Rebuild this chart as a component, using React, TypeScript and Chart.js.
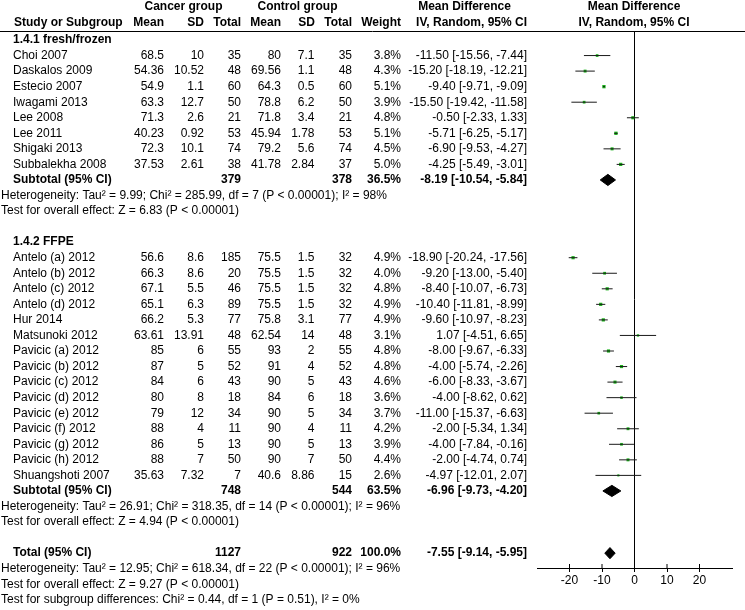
import React, { useEffect, useRef } from 'react';
import { Chart, registerables } from 'chart.js';

Chart.register(...registerables);

// ---------- data ----------
const group1Names = ['Choi 2007', 'Daskalos 2009', 'Estecio 2007', 'Iwagami 2013', 'Lee 2008', 'Lee 2011', 'Shigaki 2013', 'Subbalekha 2008'];
const group1CancerMean = [68.5, 54.36, 54.9, 63.3, 71.3, 40.23, 72.3, 37.53];
const group1CancerSD = [10, 10.52, 1.1, 12.7, 2.6, 0.92, 10.1, 2.61];
const group1CancerN = [35, 48, 60, 50, 21, 53, 74, 38];
const group1ControlMean = [80, 69.56, 64.3, 78.8, 71.8, 45.94, 79.2, 41.78];
const group1ControlSD = [7.1, 1.1, 0.5, 6.2, 3.4, 1.78, 5.6, 2.84];
const group1ControlN = [35, 48, 60, 50, 21, 53, 74, 37];
const group1Weight = [3.8, 4.3, 5.1, 3.9, 4.8, 5.1, 4.5, 5.0];
const group1MD = [-11.5, -15.2, -9.4, -15.5, -0.5, -5.71, -6.9, -4.25];
const group1Lo = [-15.56, -18.19, -9.71, -19.42, -2.33, -6.25, -9.53, -5.49];
const group1Hi = [-7.44, -12.21, -9.09, -11.58, 1.33, -5.17, -4.27, -3.01];

const group2Names = ['Antelo (a) 2012', 'Antelo (b) 2012', 'Antelo (c) 2012', 'Antelo (d) 2012', 'Hur 2014', 'Matsunoki 2012', 'Pavicic (a) 2012', 'Pavicic (b) 2012', 'Pavicic (c) 2012', 'Pavicic (d) 2012', 'Pavicic (e) 2012', 'Pavicic (f) 2012', 'Pavicic (g) 2012', 'Pavicic (h) 2012', 'Shuangshoti 2007'];
const group2CancerMean = [56.6, 66.3, 67.1, 65.1, 66.2, 63.61, 85, 87, 84, 80, 79, 88, 86, 88, 35.63];
const group2CancerSD = [8.6, 8.6, 5.5, 6.3, 5.3, 13.91, 6, 5, 6, 8, 12, 4, 5, 7, 7.32];
const group2CancerN = [185, 20, 46, 89, 77, 48, 55, 52, 43, 18, 34, 11, 13, 50, 7];
const group2ControlMean = [75.5, 75.5, 75.5, 75.5, 75.8, 62.54, 93, 91, 90, 84, 90, 90, 90, 90, 40.6];
const group2ControlSD = [1.5, 1.5, 1.5, 1.5, 3.1, 14, 2, 4, 5, 6, 5, 4, 5, 7, 8.86];
const group2ControlN = [32, 32, 32, 32, 77, 48, 55, 52, 43, 18, 34, 11, 13, 50, 15];
const group2Weight = [4.9, 4.0, 4.8, 4.9, 4.9, 3.1, 4.8, 4.8, 4.6, 3.6, 3.7, 4.2, 3.9, 4.4, 2.6];
const group2MD = [-18.9, -9.2, -8.4, -10.4, -9.6, 1.07, -8.0, -4.0, -6.0, -4.0, -11.0, -2.0, -4.0, -2.0, -4.97];
const group2Lo = [-20.24, -13.0, -10.07, -11.81, -10.97, -4.51, -9.67, -5.74, -8.33, -8.62, -15.37, -5.34, -7.84, -4.74, -12.01];
const group2Hi = [-17.56, -5.4, -6.73, -8.99, -8.23, 6.65, -6.33, -2.26, -3.67, 0.62, -6.63, 1.34, -0.16, 0.74, 2.07];

// pooled results: [subtotal 1, subtotal 2, total]
const pooledLabels = ['Subtotal (95% CI)', 'Subtotal (95% CI)', 'Total (95% CI)'];
const pooledCancerN = [379, 748, 1127];
const pooledControlN = [378, 544, 922];
const pooledWeight = [36.5, 63.5, 100.0];
const pooledMD = [-8.19, -6.96, -7.55];
const pooledLo = [-10.54, -9.73, -9.14];
const pooledHi = [-5.84, -4.2, -5.95];

const groupTitles = ['1.4.1 fresh/frozen', '1.4.2 FFPE'];
const heterogeneityTexts = [
  'Heterogeneity: Tau\u00b2 = 9.99; Chi\u00b2 = 285.99, df = 7 (P < 0.00001); I\u00b2 = 98%',
  'Heterogeneity: Tau\u00b2 = 26.91; Chi\u00b2 = 318.35, df = 14 (P < 0.00001); I\u00b2 = 96%',
  'Heterogeneity: Tau\u00b2 = 12.95; Chi\u00b2 = 618.34, df = 22 (P < 0.00001); I\u00b2 = 96%',
];
const overallEffectTexts = [
  'Test for overall effect: Z = 6.83 (P < 0.00001)',
  'Test for overall effect: Z = 4.94 (P < 0.00001)',
  'Test for overall effect: Z = 9.27 (P < 0.00001)',
];
const subgroupDiffText = 'Test for subgroup differences: Chi\u00b2 = 0.44, df = 1 (P = 0.51), I\u00b2 = 0%';

const xTickValues = [-20, -10, 0, 10, 20];

// ---------- layout ----------
const W = 745;
const H = 610;
const ROW0_Y = 40;
const PITCH = 15.55;
const AREA_TOP = 31;
const AREA_BOTTOM = 568;
const FONT = '"Liberation Sans", Arial, sans-serif';

type Row =
  | { kind: 'title'; text: string }
  | { kind: 'study'; g: number; i: number }
  | { kind: 'pooled'; p: number }
  | { kind: 'note'; text: string }
  | { kind: 'blank' };

function buildRows(): Row[] {
  const rows: Row[] = [];
  const groups = [group1Names, group2Names];
  groups.forEach((names, g) => {
    rows.push({ kind: 'title', text: groupTitles[g] });
    names.forEach((_, i) => rows.push({ kind: 'study', g, i }));
    rows.push({ kind: 'pooled', p: g });
    rows.push({ kind: 'note', text: heterogeneityTexts[g] });
    rows.push({ kind: 'note', text: overallEffectTexts[g] });
    rows.push({ kind: 'blank' });
  });
  rows.push({ kind: 'pooled', p: 2 });
  rows.push({ kind: 'note', text: heterogeneityTexts[2] });
  rows.push({ kind: 'note', text: overallEffectTexts[2] });
  rows.push({ kind: 'note', text: subgroupDiffText });
  return rows;
}

const G = [
  { names: group1Names, cm: group1CancerMean, cs: group1CancerSD, cn: group1CancerN, km: group1ControlMean, ks: group1ControlSD, kn: group1ControlN, w: group1Weight, md: group1MD, lo: group1Lo, hi: group1Hi },
  { names: group2Names, cm: group2CancerMean, cs: group2CancerSD, cn: group2CancerN, km: group2ControlMean, ks: group2ControlSD, kn: group2ControlN, w: group2Weight, md: group2MD, lo: group2Lo, hi: group2Hi },
];

const fmtCI = (m: number, l: number, h: number) => `${m.toFixed(2)} [${l.toFixed(2)}, ${h.toFixed(2)}]`;

export default function App() {
  const ref = useRef<HTMLCanvasElement | null>(null);

  useEffect(() => {
    const canvas = ref.current;
    if (!canvas) return;
    const rows = buildRows();

    const ciData: any[] = [];
    const ptData: any[] = [];
    const ptRadius: number[] = [];
    const diamonds: any[][] = [];
    rows.forEach((row, r) => {
      if (row.kind === 'study') {
        const d = G[row.g];
        ciData.push({ x: d.lo[row.i], y: r }, { x: d.hi[row.i], y: r }, { x: NaN, y: NaN });
        ptData.push({ x: d.md[row.i], y: r });
        ptRadius.push(0.6 + d.w[row.i] * 0.34);
      } else if (row.kind === 'pooled') {
        const p = row.p;
        const h = 0.36;
        diamonds.push([
          { x: pooledLo[p], y: r },
          { x: pooledMD[p], y: r - h },
          { x: pooledHi[p], y: r },
          { x: pooledMD[p], y: r + h },
          { x: pooledLo[p], y: r },
        ]);
      }
    });

    const yMin = (AREA_TOP - ROW0_Y) / PITCH;
    const yMax = (AREA_BOTTOM - ROW0_Y) / PITCH;
    const tickUp = 4 / PITCH;
    const tickData: any[] = [];
    xTickValues.forEach((v) => tickData.push({ x: v, y: yMax }, { x: v, y: yMax - tickUp }, { x: NaN, y: NaN }));

    const tablePlugin = {
      id: 'forestTable',
      afterDraw(chart: any) {
        const ctx = chart.ctx as CanvasRenderingContext2D;
        const ys = chart.scales.y;
        const Y = (r: number) => ys.getPixelForValue(r);
        ctx.save();
        ctx.fillStyle = '#000';
        ctx.textBaseline = 'middle';
        const t = (s: string, x: number, r: number, align: CanvasTextAlign, bold = false) => {
          ctx.font = `${bold ? 'bold ' : ''}12px ${FONT}`;
          ctx.textAlign = align;
          ctx.fillText(s, x, Y(r));
        };
        // header
        const h1 = -2.12;
        const h2 = -1.1;
        t('Cancer group', 183.5, h1, 'center', true);
        t('Control group', 297.5, h1, 'center', true);
        t('Mean Difference', 464.5, h1, 'center', true);
        t('Mean Difference', 634, h1, 'center', true);
        t('Study or Subgroup', 14, h2, 'left', true);
        t('Mean', 164, h2, 'right', true);
        t('SD', 204, h2, 'right', true);
        t('Total', 241, h2, 'right', true);
        t('Mean', 281, h2, 'right', true);
        t('SD', 315, h2, 'right', true);
        t('Total', 352, h2, 'right', true);
        t('Weight', 401, h2, 'right', true);
        t('IV, Random, 95% CI', 527, h2, 'right', true);
        t('IV, Random, 95% CI', 634, h2, 'center', true);
        // header rule
        ctx.strokeStyle = '#000';
        ctx.lineWidth = 1;
        ctx.beginPath();
        ctx.moveTo(0, Math.round(Y(yMin)) + 0.5);
        ctx.lineTo(W, Math.round(Y(yMin)) + 0.5);
        ctx.stroke();

        rows.forEach((row, r) => {
          if (row.kind === 'title') t(row.text, 13, r, 'left', true);
          else if (row.kind === 'note') t(row.text, 1, r, 'left');
          else if (row.kind === 'study') {
            const d = G[row.g];
            const i = row.i;
            t(d.names[i], 13, r, 'left');
            t(String(d.cm[i]), 164, r, 'right');
            t(String(d.cs[i]), 204, r, 'right');
            t(String(d.cn[i]), 241, r, 'right');
            t(String(d.km[i]), 281, r, 'right');
            t(String(d.ks[i]), 314.5, r, 'right');
            t(String(d.kn[i]), 352, r, 'right');
            t(d.w[i].toFixed(1) + '%', 401, r, 'right');
            t(fmtCI(d.md[i], d.lo[i], d.hi[i]), 527, r, 'right');
          } else if (row.kind === 'pooled') {
            const p = row.p;
            t(pooledLabels[p], 13, r, 'left', true);
            t(String(pooledCancerN[p]), 241, r, 'right', true);
            t(String(pooledControlN[p]), 352, r, 'right', true);
            t(pooledWeight[p].toFixed(1) + '%', 401, r, 'right', true);
            t(fmtCI(pooledMD[p], pooledLo[p], pooledHi[p]), 527, r, 'right', true);
          }
        });
        ctx.restore();
      },
    };

    const datasets: any[] = [
      {
        label: 'CI',
        data: ciData,
        borderColor: '#1a1a1a',
        borderWidth: 1,
        pointRadius: 0,
        spanGaps: false,
        fill: false,
        tension: 0,
      },
      {
        label: 'ticksUp',
        data: tickData,
        borderColor: '#000',
        borderWidth: 1,
        pointRadius: 0,
        spanGaps: false,
        fill: false,
        tension: 0,
      },
      {
        label: 'MD',
        data: ptData,
        showLine: false,
        pointStyle: 'rect',
        pointRadius: ptRadius,
        pointBackgroundColor: '#19b319',
        pointBorderColor: '#19b319',
        pointBorderWidth: 0,
      },
      ...diamonds.map((d, k) => ({
        label: 'pooled' + k,
        data: d,
        borderColor: '#000',
        backgroundColor: '#000',
        borderWidth: 1,
        pointRadius: 0,
        fill: 'shape',
        tension: 0,
      })),
    ];

    const chart = new Chart(canvas, {
      type: 'line',
      data: { datasets },
      plugins: [tablePlugin],
      options: {
        responsive: false,
        animation: false,
        events: [],
        layout: { padding: { top: AREA_TOP, left: 537, right: W - 732, bottom: 0 } },
        plugins: { legend: { display: false }, tooltip: { enabled: false } },
        scales: {
          x: {
            type: 'linear',
            min: -30,
            max: 30,
            afterBuildTicks: (scale: any) => {
              scale.ticks = xTickValues.map((v) => ({ value: v }));
            },
            afterFit: (scale: any) => {
              scale.height = H - AREA_BOTTOM;
            },
            grid: {
              color: (c: any) => (c.tick && c.tick.value === 0 ? '#000' : 'rgba(0,0,0,0)'),
              tickColor: '#000',
              tickLength: 4,
              lineWidth: 1,
            },
            border: { display: true, color: '#000', width: 1 },
            ticks: {
              color: '#000',
              padding: 1,
              font: { family: FONT, size: 12 },
              callback: (v: any) => String(v),
            },
          },
          y: {
            type: 'linear',
            display: false,
            reverse: true,
            min: yMin,
            max: yMax,
          },
        },
      } as any,
    });
    return () => chart.destroy();
  }, []);

  return (
    <div style={{ position: 'absolute', left: 0, top: 0, width: W, height: H, background: '#fff' }}>
      <canvas ref={ref} width={W} height={H} style={{ width: W, height: H, display: 'block' }} />
    </div>
  );
}
